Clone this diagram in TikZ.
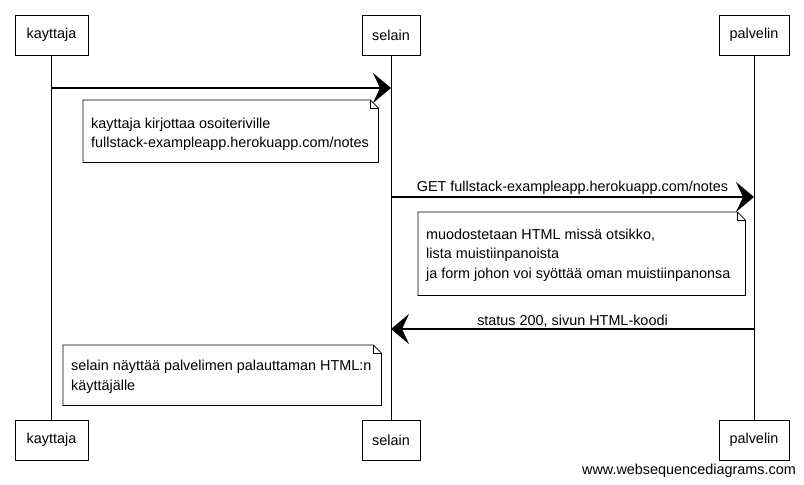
\documentclass[tikz,border=0pt]{standalone}
\usepackage{fontspec}
\setmainfont{Liberation Sans}
\usetikzlibrary{arrows.meta}
\begin{document}
\begin{tikzpicture}[x=1pt,y=-1pt,
  font=\fontsize{14.4}{19.5}\selectfont,
  actor/.style={draw, line width=0.8pt, minimum height=40, inner xsep=8},
  lifeline/.style={draw, line width=0.8pt},
  msg/.style={line width=1.1pt, -{Stealth[length=18pt,width=30pt,inset=7pt]}},
  notebox/.style={draw, line width=0.8pt},
  noteframe/.style={inner sep=0, anchor=north west},
  notetext/.style={align=left, inner sep=0, anchor=west},
  lbl/.style={inner sep=1pt}
]
\useasboundingbox (0,0) rectangle (804,485);

% actors
\node[actor, minimum width=73] (kt) at (51.5,35) {kayttaja};
\node[actor, minimum width=58] (st) at (391,35) {selain};
\node[actor, minimum width=70] (pt) at (754,35) {palvelin};
\node[actor, minimum width=73] (kb) at (51.5,440) {kayttaja};
\node[actor, minimum width=58] (sb) at (391,440) {selain};
\node[actor, minimum width=70] (pb) at (754,440) {palvelin};

% lifelines
\draw[lifeline] (kt.south) -- (kb.north);
\draw[lifeline] (st.south) -- (sb.north);
\draw[lifeline] (pt.south) -- (pb.north);

% message 1
\coordinate (m1a) at (kt.south |- 0,88);
\coordinate (m1b) at (st.south |- 0,88);
\draw[msg] (m1a) -- (m1b);

% note 1
\node[noteframe, minimum width=295, minimum height=62] (n1) at (83,100) {};
\draw[notebox] (n1.north west) -- ([xshift=-8pt]n1.north east) -- ([yshift=-8pt]n1.north east)
  -- (n1.south east) -- (n1.south west) -- cycle;
\draw[notebox] ([xshift=-8pt]n1.north east) |- ([yshift=-8pt]n1.north east);
\node[notetext] (n1t) at ([xshift=8pt, yshift=-3pt]n1.west)
  {kayttaja kirjottaa osoiteriville\\fullstack-exampleapp.herokuapp.com/notes};

% message 2
\coordinate (m2a) at (st.south |- 0,197);
\coordinate (m2b) at (pt.south |- 0,197);
\draw[msg] (m2a) -- node[lbl, above=0.5pt] (l2) {GET fullstack-exampleapp.herokuapp.com/notes} (m2b);

% note 2
\node[noteframe, minimum width=327, minimum height=83] (n2) at (418,212) {};
\draw[notebox] (n2.north west) -- ([xshift=-8pt]n2.north east) -- ([yshift=-8pt]n2.north east)
  -- (n2.south east) -- (n2.south west) -- cycle;
\draw[notebox] ([xshift=-8pt]n2.north east) |- ([yshift=-8pt]n2.north east);
\node[notetext] (n2t) at ([xshift=8pt, yshift=-1.5pt]n2.west)
  {muodostetaan HTML missä otsikko,\\lista muistiinpanoista\\ja form johon voi syöttää oman muistiinpanonsa};

% message 3
\coordinate (m3a) at (pt.south |- 0,329);
\coordinate (m3b) at (st.south |- 0,329);
\draw[msg] (m3a) -- node[lbl, above=0.5pt] (l3) {status 200, sivun HTML-koodi} (m3b);

% note 3
\node[noteframe, minimum width=318, minimum height=60] (n3) at (63,345) {};
\draw[notebox] (n3.north west) -- ([xshift=-8pt]n3.north east) -- ([yshift=-8pt]n3.north east)
  -- (n3.south east) -- (n3.south west) -- cycle;
\draw[notebox] ([xshift=-8pt]n3.north east) |- ([yshift=-8pt]n3.north east);
\node[notetext] (n3t) at ([xshift=8pt, yshift=-1.5pt]n3.west)
  {selain näyttää palvelimen palauttaman HTML:n\\käyttäjälle};

% footer
\node[anchor=east, inner sep=0] (foot) at (796,471) {www.websequencediagrams.com};
\end{tikzpicture}
\end{document}
